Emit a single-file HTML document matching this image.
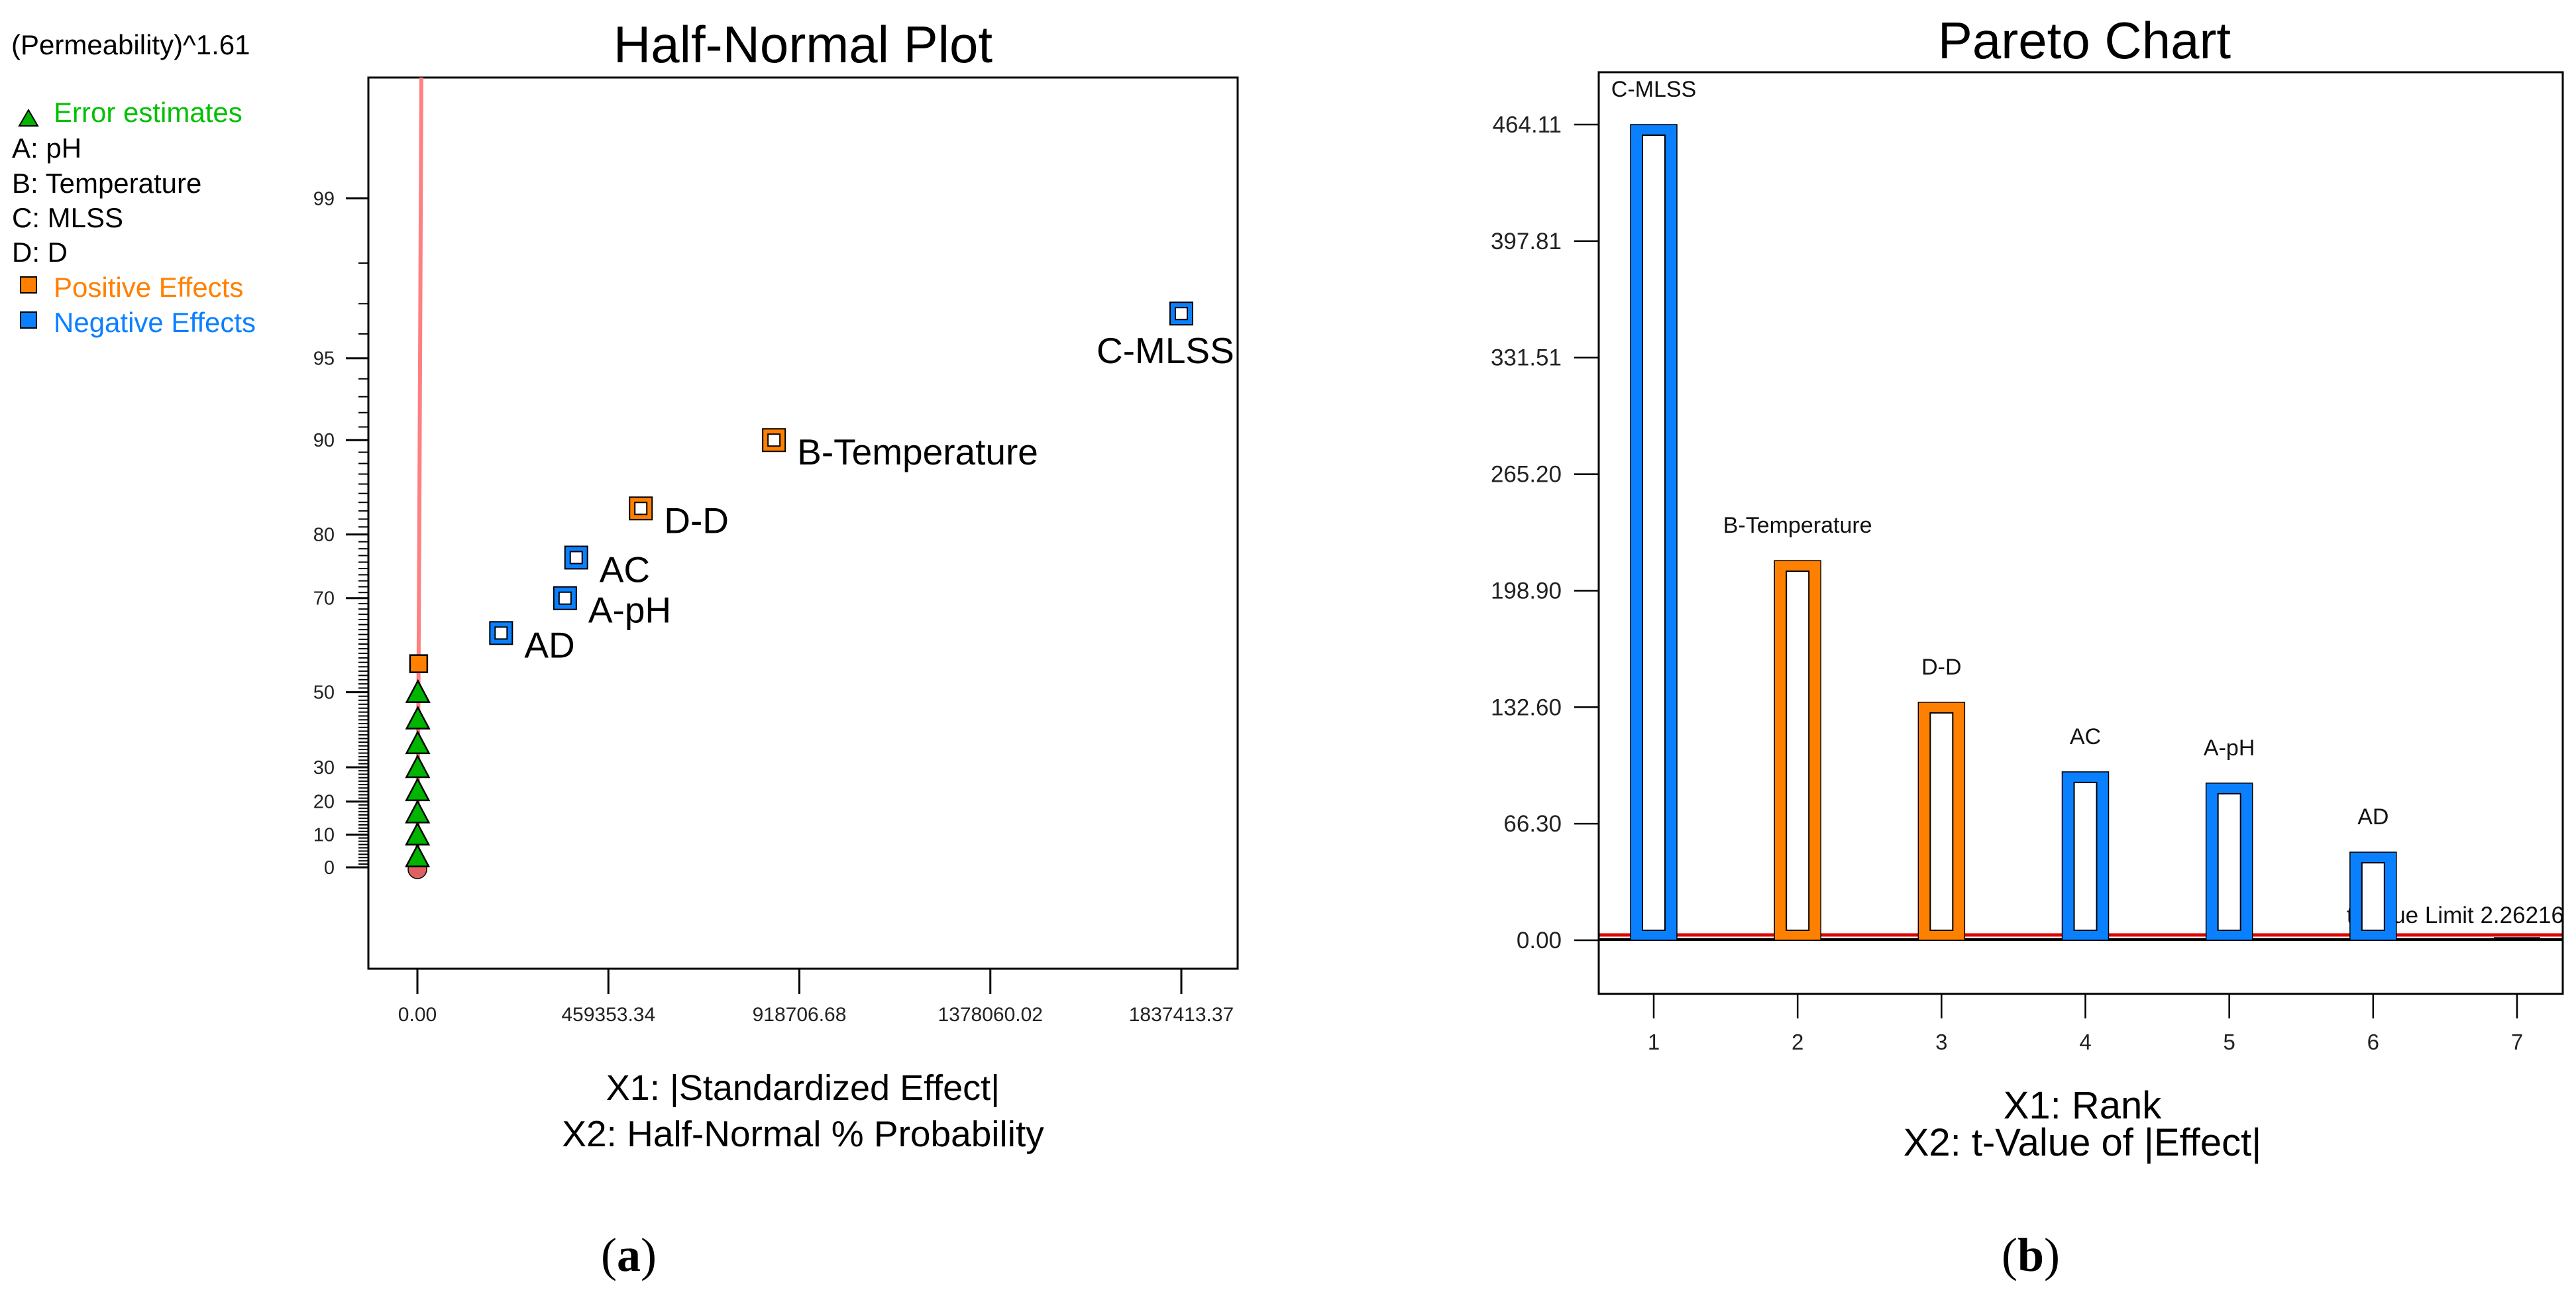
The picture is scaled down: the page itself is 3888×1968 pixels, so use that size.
<!DOCTYPE html>
<html><head><meta charset="utf-8"><style>
html,body{margin:0;padding:0;background:#fff}
svg{display:block}
text{font-family:"Liberation Sans",Arial,sans-serif}
</style></head><body>
<svg id="svg" width="3888" height="1968" viewBox="0 0 3888 1968" xmlns="http://www.w3.org/2000/svg">
<g>
<text x="17" y="82" font-size="42">(Permeability)^1.61</text>
<polygon points="43,166 29,190 57,190" fill="#00b400" stroke="#000" stroke-width="2"/>
<text x="81" y="184" font-size="42" fill="#00c000">Error estimates</text>
<text x="18" y="238" font-size="42">A: pH</text>
<text x="18" y="291" font-size="42">B: Temperature</text>
<text x="18" y="343" font-size="42">C: MLSS</text>
<text x="18" y="395" font-size="42">D: D</text>
<rect x="31" y="418" width="24" height="24" fill="#ff8000" stroke="#000" stroke-width="2"/>
<text x="81" y="448" font-size="42" fill="#ff8000">Positive Effects</text>
<rect x="31" y="471" width="24" height="24" fill="#0a80ff" stroke="#000" stroke-width="2"/>
<text x="81" y="501" font-size="42" fill="#0a80ff">Negative Effects</text>
</g>
<text x="1212" y="94" font-size="78" text-anchor="middle">Half-Normal Plot</text>
<text x="3146" y="88" font-size="78" text-anchor="middle">Pareto Chart</text>
<text x="1212" y="1660" font-size="54" text-anchor="middle">X1: |Standardized Effect|</text>
<text x="1212" y="1730" font-size="55" text-anchor="middle">X2: Half-Normal % Probability</text>
<text x="3143" y="1688" font-size="58" text-anchor="middle">X1: Rank</text>
<text x="3143" y="1744" font-size="58" text-anchor="middle">X2: t-Value of |Effect|</text>
<text x="949" y="1918" font-size="72" text-anchor="middle" style="font-family:'Liberation Serif',serif">(<tspan font-weight="bold">a</tspan>)</text>
<text x="3065" y="1918" font-size="72" text-anchor="middle" style="font-family:'Liberation Serif',serif">(<tspan font-weight="bold">b</tspan>)</text>
<g id="hn"></g>
<g id="pa"></g>
</svg>
<script>
// Half-normal data
const hnLabels = ["C-MLSS","B-Temperature","D-D","AC","A-pH","AD"];
const hnEffects = [1837413, 857600, 537400, 382000, 355100, 201300];
const hnProbs = [96.7, 90, 83.3, 76.7, 70, 63.3];
const hnSigns = ["neg","pos","pos","neg","neg","neg"];
const hnPosSmallEffect = [3000];
const hnPosSmallProb = [56.7];
const errEffects = [1200, 1000, 800, 600, 400, 300, 200, 100];
const errProbs = [50, 43.3, 36.7, 30, 23.3, 16.7, 10, 3.33];
const lineEffects = [0, 3000, 5500, 7500, 9500];
const lineProbs = [0, 60, 90, 98, 99.76];
const hnXTicks = [0, 459353.34, 918706.68, 1378060.02, 1837413.37];
const hnXTickLabels = ["0.00","459353.34","918706.68","1378060.02","1837413.37"];
const hnYTicks = [0,10,20,30,50,70,80,90,95,99];
// Pareto data
const paLabels = ["C-MLSS","B-Temperature","D-D","AC","A-pH","AD",""];
const paValues = [464.11, 216, 135.4, 95.8, 89.4, 50.1, 1];
const paSigns = ["neg","pos","pos","neg","neg","neg","none"];
const paYTicks = [0, 66.30, 132.60, 198.90, 265.20, 331.51, 397.81, 464.11];
const paXTicks = [1,2,3,4,5,6,7];
const tLimit = [2.26216];

const NS="http://www.w3.org/2000/svg";
function mk(parent,tag,attrs,txt){const e=document.createElementNS(NS,tag);for(const k in attrs)e.setAttribute(k,attrs[k]);if(txt!==undefined)e.textContent=txt;parent.appendChild(e);return e;}
function invNorm(p){const a=[-3.969683028665376e+01,2.209460984245205e+02,-2.759285104469687e+02,1.383577518672690e+02,-3.066479806614716e+01,2.506628277459239e+00];const b=[-5.447609879822406e+01,1.615858368580409e+02,-1.556989798598866e+02,6.680131188771972e+01,-1.328068155288572e+01];const c=[-7.784894002430293e-03,-3.223964580411365e-01,-2.400758277161838e+00,-2.549732539343734e+00,4.374664141464968e+00,2.938163982698783e+00];const d=[7.784695709041462e-03,3.224671290700398e-01,2.445134137142996e+00,3.754408661907416e+00];const pl=0.02425;let q,r;if(p<pl){q=Math.sqrt(-2*Math.log(p));return(((((c[0]*q+c[1])*q+c[2])*q+c[3])*q+c[4])*q+c[5])/((((d[0]*q+d[1])*q+d[2])*q+d[3])*q+1);}if(p<=1-pl){q=p-0.5;r=q*q;return(((((a[0]*r+a[1])*r+a[2])*r+a[3])*r+a[4])*r+a[5])*q/(((((b[0]*r+b[1])*r+b[2])*r+b[3])*r+b[4])*r+1);}q=Math.sqrt(-2*Math.log(1-p));return-(((((c[0]*q+c[1])*q+c[2])*q+c[3])*q+c[4])*q+c[5])/((((d[0]*q+d[1])*q+d[2])*q+d[3])*q+1);}
const BLUE="#0a80ff", ORANGE="#ff8000";

// ---- Half-normal
const hn=document.getElementById('hn');
const hL=556,hR=1868,hT=117,hB=1462;
const hx=v=>630+v*(1783-630)/1837413.37;
const hy=p=>1309-invNorm((1+p/100)/2)*392;
let r=mk(hn,'rect',{x:hL,y:hT,width:hR-hL,height:hB-hT,fill:'none',stroke:'#000','stroke-width':3});

for(let p=1;p<=99;p++){const y=hy(p);const l=mk(hn,'line',{x1:hL-15,x2:hL,y1:y,y2:y,stroke:'#000','stroke-width':2});
}
hnYTicks.forEach(p=>{const y=hy(p);const l=mk(hn,'line',{x1:hL-34,x2:hL,y1:y,y2:y,stroke:'#000','stroke-width':3});

const t=mk(hn,'text',{x:505,y:y+10,'font-size':29,'text-anchor':'end',fill:'#222'},String(p));
});
hnXTicks.forEach((v,i)=>{const x=hx(v);const l=mk(hn,'line',{x1:x,x2:x,y1:hB,y2:hB+38,stroke:'#000','stroke-width':3});

const t=mk(hn,'text',{x:x,y:1541,'font-size':30,'text-anchor':'middle',fill:'#222'},hnXTickLabels[i]);
});
const c0=mk(hn,'circle',{cx:hx(0),cy:hy(0)+3,r:14,fill:'#e06060',stroke:'#000','stroke-width':1.5});

const pl=mk(hn,'polyline',{points:lineEffects.map((v,i)=>hx(v)+','+(i==lineEffects.length-1?hT:hy(lineProbs[i]))).join(' '),fill:'none',stroke:'#ff8080','stroke-width':6});

errEffects.forEach((v,i)=>{const x=hx(v),y=hy(errProbs[i]);
const t=mk(hn,'polygon',{points:`${x},${y-17} ${x-17},${y+15} ${x+17},${y+15}`,fill:'#00b400',stroke:'#000','stroke-width':2.5});
});
hnPosSmallEffect.forEach((v,i)=>{const x=hx(v),y=hy(hnPosSmallProb[i]);
const s=mk(hn,'rect',{x:x-13,y:y-13,width:26,height:26,fill:ORANGE,stroke:'#000','stroke-width':2.5});
});
hnEffects.forEach((v,i)=>{const x=hx(v),y=hy(hnProbs[i]);const col=hnSigns[i]=="pos"?ORANGE:BLUE;
const g=mk(hn,'g',{});

mk(g,'rect',{x:x-17,y:y-17,width:34,height:34,fill:col,stroke:'#000','stroke-width':2});
mk(g,'rect',{x:x-9,y:y-9,width:18,height:18,fill:'#fff',stroke:'#000','stroke-width':2});
let tx=x+35,ty=y+37;if(i==0){tx=x-128;ty=y+75;}
const t=mk(hn,'text',{x:tx,y:ty,'font-size':55},hnLabels[i]);
});

// ---- Pareto
const pa=document.getElementById('pa');
const pL=2413,pR=3868,pT=109,pB=1500;
const py=v=>1419-v*(1419-188)/464.11;
const px=k=>2496+(k-1)*(3799-2496)/6;
paYTicks.forEach(v=>{const y=py(v);const l=mk(pa,'line',{x1:2376,x2:pL,y1:y,y2:y,stroke:'#000','stroke-width':2.5});

const t=mk(pa,'text',{x:2357,y:y+12,'font-size':35,'text-anchor':'end',fill:'#222'},v.toFixed(2));
});
paXTicks.forEach(k=>{const x=px(k);const l=mk(pa,'line',{x1:x,x2:x,y1:pB,y2:pB+37,stroke:'#000','stroke-width':2.5});

const t=mk(pa,'text',{x:x,y:1584,'font-size':33,'text-anchor':'middle',fill:'#222'},String(k));
});
const zl=mk(pa,'line',{x1:pL,x2:pR,y1:py(0)-1,y2:py(0)-1,stroke:'#000','stroke-width':4});

const tl=mk(pa,'line',{x1:pL,x2:pR,y1:py(tLimit[0])-2,y2:py(tLimit[0])-2,stroke:'#e00000','stroke-width':5});

const clip=mk(pa,'clipPath',{id:'pclip'});mk(clip,'rect',{x:pL,y:pT,width:pR-pL,height:pB-pT});
const lt=mk(pa,'text',{x:pR+2,y:py(tLimit[0])-20,'font-size':35,'text-anchor':'end','clip-path':'url(#pclip)',fill:'#111'},'t-Value Limit '+tLimit[0]);

paValues.forEach((v,i)=>{const x=px(i+1),yt=py(v),yb=py(0);
if(paSigns[i]=="none"){const b=mk(pa,'rect',{x:x-35,y:yt-2,width:70,height:Math.max(4,yb-yt+2),fill:'#000'});
return;}
const col=paSigns[i]=="pos"?ORANGE:BLUE;
const g=mk(pa,'g',{});

mk(g,'rect',{x:x-35,y:yt,width:70,height:yb-yt,fill:col,stroke:'#000','stroke-width':1.5});
mk(g,'rect',{x:x-17,y:yt+16,width:34,height:Math.max(0,yb-yt-31),fill:'#fff',stroke:'#000','stroke-width':2});
const t=mk(pa,'text',{x:x,y:yt-42,'font-size':34,'text-anchor':'middle',fill:'#111'},paLabels[i]);
});
const pf=mk(pa,'rect',{x:pL,y:pT,width:pR-pL,height:pB-pT,fill:'none',stroke:'#000','stroke-width':3});

</script>
</body></html>
